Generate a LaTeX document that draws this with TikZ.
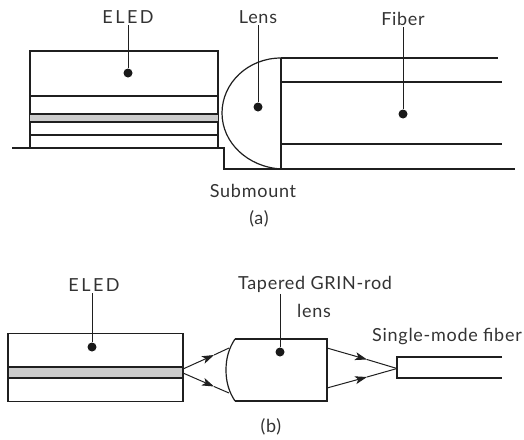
\documentclass[tikz,border=0pt]{standalone}
\usepackage{fontspec}
\setmainfont{Lato}
\usepackage{tikz}
\usetikzlibrary{arrows.meta, positioning, shapes.geometric}

\begin{document}
\begin{tikzpicture}[x=1pt,y=-1pt,line width=1.2pt,color=black!88]

    % Define styles for the nodes
    \tikzstyle{label} = [
        text centered, inner sep=1pt, text=black!80,
        font=\fontsize{18}{21}\selectfont\addfontfeature{LetterSpace=4}
    ]
    \tikzstyle{spaced} = [
        label, font=\fontsize{18}{21}\selectfont\addfontfeature{LetterSpace=14}
    ]
    \tikzstyle{dot} = [
        circle, fill=black!90, inner sep=0pt, minimum size=9pt
    ]
    \tikzstyle{chip} = [
        rectangle, draw=black!88, inner sep=0pt
    ]
    \tikzstyle{active} = [
        chip, fill=black!20
    ]
    \tikzstyle{leader} = [line width=1pt]
    \tikzstyle{arrow} = [line width=1pt,-{Stealth[length=12pt,width=8pt,inset=3pt]}]

    \useasboundingbox (0,0) rectangle (524,439);

    % Part (a): nodes
    \node (eledA) [chip, minimum width=188pt, minimum height=97pt] at (124,99.5) {};
    \fill [black!20] (30,114) rectangle (218,122);
    \draw (30,96) -- (218,96);
    \draw (30,114) -- (218,114);
    \draw (30,122) -- (218,122);
    \draw (30,135) -- (218,135);

    \node (eledAlabel) [spaced] at (128,17) {ELED};
    \node (eledAdot) [dot] at (128,73) {};
    \node (lensAlabel) [label] at (258,17) {Lens};
    \node (lensAdot) [dot] at (258,107) {};
    \node (fiberAlabel) [label] at (403,19) {Fiber};
    \node (fiberAdot) [dot] at (403,114) {};
    \node (submount) [label] at (253,191) {Submount};
    \node (captionA) [label] at (259,219) {(a)};

    \coordinate (lensAtop) at (281,58);
    \coordinate (lensAbot) at (281,169);

    % Part (a): outlines
    \draw (12,148) -- (224,148) -- (224,169) -- (515,169);
    \draw (lensAtop) .. controls (248,58) and (222,83) .. (222,113)
        .. controls (222,143) and (248,167) .. (lensAbot);
    \draw (lensAtop) -- (lensAbot);
    \draw (lensAtop) -- (498,58);
    \draw (281,82) -- (502,82);
    \draw (281,144) -- (502,144);

    % Part (a): leaders
    \draw [leader] (eledAlabel.south) -- (eledAdot);
    \draw [leader] (lensAlabel.south) -- (lensAdot);
    \draw [leader] (fiberAlabel.south) -- (fiberAdot);

    % Part (b): nodes
    \node (eledB) [chip, minimum width=175pt, minimum height=68pt] at (95.5,367.5) {};
    \node (activeB) [active, minimum width=175pt, minimum height=11pt] at (95.5,372.5) {};

    \node (eledBlabel) [spaced] at (94,285) {ELED};
    \node (eledBdot) [dot] at (92,347) {};
    \node (grinlabel) [label] at (315,284) {Tapered GRIN-rod};
    \node (grinlens) [label] at (314,311) {lens};
    \node (grindot) [dot] at (280,352) {};
    \node (singlemode) [label] at (447,337) {Single-mode fiber};
    \node (captionB) [label] at (271,427) {(b)};

    \coordinate (grinA) at (235,339);
    \coordinate (grinB) at (235,401);
    \coordinate (grinC) at (327,339);
    \coordinate (grinD) at (327,401);
    \coordinate (coreTop) at (397,357);
    \coordinate (coreBot) at (397,378);
    \coordinate (focus) at (397,368.5);
    \coordinate (emitUp) at (183,369);
    \coordinate (emitDown) at (183,373);
    \coordinate (inUp) at (229,348);
    \coordinate (inDown) at (229,393);
    \coordinate (outUp) at (327,348);
    \coordinate (outDown) at (327,388);
    \coordinate (midA) at (214,355);
    \coordinate (midB) at (214,386.5);
    \coordinate (midC) at (367,359.5);
    \coordinate (midD) at (367,377);

    % Part (b): outlines
    \draw (grinA) -- (grinC) -- (grinD) -- (grinB);
    \draw (grinA) .. controls (229,348) and (226,358) .. (226,370)
        .. controls (226,382) and (229,392) .. (grinB);
    \draw (502,357) -- (coreTop) -- (coreBot) -- (502,378);

    % Part (b): leaders
    \draw [leader] (eledBlabel.south -| eledBdot) -- (eledBdot);
    \draw [leader] (grinlabel.south -| grindot) -- (grindot);

    % Arrows
    \draw [arrow] (emitUp) -- (midA);
    \draw [leader] (midA) -- (inUp);
    \draw [arrow] (emitDown) -- (midB);
    \draw [leader] (midB) -- (inDown);
    \draw [arrow] (outUp) -- (midC);
    \draw [leader] (midC) -- (focus);
    \draw [arrow] (outDown) -- (midD);
    \draw [leader] (midD) -- (focus);

\end{tikzpicture}
\end{document}
